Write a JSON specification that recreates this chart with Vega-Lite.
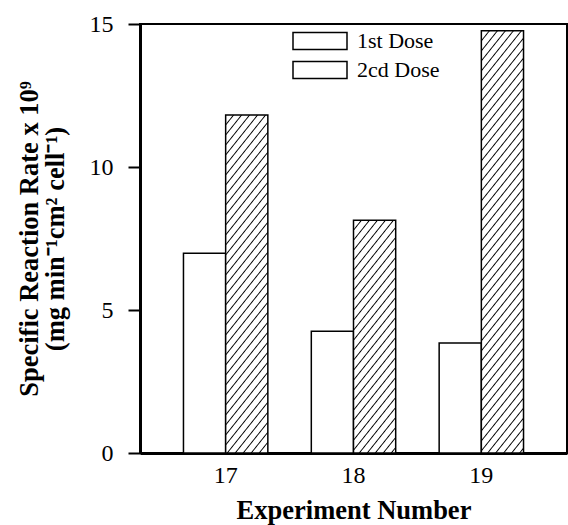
{
  "$schema": "https://vega.github.io/schema/vega-lite/v6.json",
  "width": 427,
  "height": 429,
  "autosize": {"type": "none"},
  "padding": {"left": 140, "top": 24, "right": 1, "bottom": 72},
  "background": "white",
  "config": {
    "font": "Liberation Serif",
    "view": {"stroke": "black", "strokeWidth": 2},
    "axis": {"domainColor": "black", "tickColor": "black", "labelColor": "black", "titleColor": "black", "grid": false}
  },
  "data": {
    "values": [
      {"exp": "17", "dose": "1st Dose", "rate": 6.98},
      {"exp": "17", "dose": "2cd Dose", "rate": 11.82},
      {"exp": "18", "dose": "1st Dose", "rate": 4.26},
      {"exp": "18", "dose": "2cd Dose", "rate": 8.14},
      {"exp": "19", "dose": "1st Dose", "rate": 3.85},
      {"exp": "19", "dose": "2cd Dose", "rate": 14.76}
    ]
  },
  "mark": {"type": "bar", "stroke": "black", "strokeWidth": 1.5},
  "encoding": {
    "x": {
      "field": "exp", "type": "ordinal",
      "scale": {"paddingInner": 0.34, "paddingOuter": 0.34},
      "axis": {"title": "Experiment Number", "labelAngle": 0, "ticks": false, "domainWidth": 3, "labelFontSize": 24, "labelPadding": 10, "labelDx": 3, "titleFontSize": 26.5, "titleFontWeight": "bold", "titlePadding": 10}
    },
    "xOffset": {"field": "dose", "type": "nominal", "scale": {"paddingInner": 0, "paddingOuter": 0}},
    "y": {
      "field": "rate", "type": "quantitative",
      "scale": {"domain": [0, 15], "nice": false},
      "axis": {"title": ["Specific Reaction Rate x 10⁹", "(mg min⁻¹cm² cell⁻¹)"], "values": [0, 5, 10, 15], "tickSize": 12, "tickWidth": 2, "domainWidth": 3, "labelFontSize": 24, "labelPadding": 15, "titleFontSize": 26.5, "titleFontWeight": "bold", "titleLineHeight": 26, "titlePadding": 20}
    },
    "fill": {
      "field": "dose", "type": "nominal",
      "scale": {"domain": ["1st Dose", "2cd Dose"], "range": ["white", "white"]},
      "legend": {
        "title": null, "orient": "none", "legendX": 169, "legendY": 6, "padding": 0,
        "symbolType": "M-2.7,-0.85H2.7V0.85H-2.7Z", "symbolSize": 400, "symbolStrokeColor": "black", "symbolStrokeWidth": 1.5,
        "labelFontSize": 22, "labelColor": "black", "labelOffset": 26, "rowPadding": 5,
        "encode": {"symbols": {"update": {
          "stroke": {"value": "black"},
          "fill": {"value": {"expr": "(datum.index === 1 || datum.value === '2cd Dose' || datum.label === '2cd Dose') ? {gradient: 'linear', x1: 0, y1: 0, x2: 6.9656, y2: 1.7543, stops: [{offset: 0, color: '#000'}, {offset: 0.003, color: '#fff'}, {offset: 0.017, color: '#fff'}, {offset: 0.02, color: '#000'}, {offset: 0.023, color: '#fff'}, {offset: 0.037, color: '#fff'}, {offset: 0.04, color: '#000'}, {offset: 0.043, color: '#fff'}, {offset: 0.057, color: '#fff'}, {offset: 0.06, color: '#000'}, {offset: 0.063, color: '#fff'}, {offset: 0.077, color: '#fff'}, {offset: 0.08, color: '#000'}, {offset: 0.083, color: '#fff'}, {offset: 0.097, color: '#fff'}, {offset: 0.1, color: '#000'}, {offset: 0.103, color: '#fff'}, {offset: 0.117, color: '#fff'}, {offset: 0.12, color: '#000'}, {offset: 0.123, color: '#fff'}, {offset: 0.137, color: '#fff'}, {offset: 0.14, color: '#000'}, {offset: 0.143, color: '#fff'}, {offset: 0.157, color: '#fff'}, {offset: 0.16, color: '#000'}, {offset: 0.163, color: '#fff'}, {offset: 0.177, color: '#fff'}, {offset: 0.18, color: '#000'}, {offset: 0.183, color: '#fff'}]} : 'white'"}}
        }}}
      },
      "condition": [
        {"test": "datum.exp === '17' && datum.dose === '2cd Dose'", "value": {"gradient": "linear", "x1": 0, "y1": 0, "x2": 0.22526, "y2": 1.44392, "stops": [
          {"offset":0,"color":"#000"},{"offset":0.003,"color":"#fff"},
          {"offset":0.017,"color":"#fff"},{"offset":0.02,"color":"#000"},{"offset":0.023,"color":"#fff"},
          {"offset":0.037,"color":"#fff"},{"offset":0.04,"color":"#000"},{"offset":0.043,"color":"#fff"},
          {"offset":0.057,"color":"#fff"},{"offset":0.06,"color":"#000"},{"offset":0.063,"color":"#fff"},
          {"offset":0.077,"color":"#fff"},{"offset":0.08,"color":"#000"},{"offset":0.083,"color":"#fff"},
          {"offset":0.097,"color":"#fff"},{"offset":0.1,"color":"#000"},{"offset":0.103,"color":"#fff"},
          {"offset":0.117,"color":"#fff"},{"offset":0.12,"color":"#000"},{"offset":0.123,"color":"#fff"},
          {"offset":0.137,"color":"#fff"},{"offset":0.14,"color":"#000"},{"offset":0.143,"color":"#fff"},
          {"offset":0.157,"color":"#fff"},{"offset":0.16,"color":"#000"},{"offset":0.163,"color":"#fff"},
          {"offset":0.177,"color":"#fff"},{"offset":0.18,"color":"#000"},{"offset":0.183,"color":"#fff"},
          {"offset":0.197,"color":"#fff"},{"offset":0.2,"color":"#000"},{"offset":0.203,"color":"#fff"},
          {"offset":0.217,"color":"#fff"},{"offset":0.22,"color":"#000"},{"offset":0.223,"color":"#fff"},
          {"offset":0.237,"color":"#fff"},{"offset":0.24,"color":"#000"},{"offset":0.243,"color":"#fff"},
          {"offset":0.257,"color":"#fff"},{"offset":0.26,"color":"#000"},{"offset":0.263,"color":"#fff"},
          {"offset":0.277,"color":"#fff"},{"offset":0.28,"color":"#000"},{"offset":0.283,"color":"#fff"},
          {"offset":0.297,"color":"#fff"},{"offset":0.3,"color":"#000"},{"offset":0.303,"color":"#fff"},
          {"offset":0.317,"color":"#fff"},{"offset":0.32,"color":"#000"},{"offset":0.323,"color":"#fff"},
          {"offset":0.337,"color":"#fff"},{"offset":0.34,"color":"#000"},{"offset":0.343,"color":"#fff"},
          {"offset":0.357,"color":"#fff"},{"offset":0.36,"color":"#000"},{"offset":0.363,"color":"#fff"},
          {"offset":0.377,"color":"#fff"},{"offset":0.38,"color":"#000"},{"offset":0.383,"color":"#fff"},
          {"offset":0.397,"color":"#fff"},{"offset":0.4,"color":"#000"},{"offset":0.403,"color":"#fff"},
          {"offset":0.417,"color":"#fff"},{"offset":0.42,"color":"#000"},{"offset":0.423,"color":"#fff"},
          {"offset":0.437,"color":"#fff"},{"offset":0.44,"color":"#000"},{"offset":0.443,"color":"#fff"},
          {"offset":0.457,"color":"#fff"},{"offset":0.46,"color":"#000"},{"offset":0.463,"color":"#fff"},
          {"offset":0.477,"color":"#fff"},{"offset":0.48,"color":"#000"},{"offset":0.483,"color":"#fff"},
          {"offset":0.497,"color":"#fff"},{"offset":0.5,"color":"#000"},{"offset":0.503,"color":"#fff"},
          {"offset":0.517,"color":"#fff"},{"offset":0.52,"color":"#000"},{"offset":0.523,"color":"#fff"},
          {"offset":0.537,"color":"#fff"},{"offset":0.54,"color":"#000"},{"offset":0.543,"color":"#fff"},
          {"offset":0.557,"color":"#fff"},{"offset":0.56,"color":"#000"},{"offset":0.563,"color":"#fff"},
          {"offset":0.577,"color":"#fff"},{"offset":0.58,"color":"#000"},{"offset":0.583,"color":"#fff"},
          {"offset":0.597,"color":"#fff"},{"offset":0.6,"color":"#000"},{"offset":0.603,"color":"#fff"},
          {"offset":0.617,"color":"#fff"},{"offset":0.62,"color":"#000"},{"offset":0.623,"color":"#fff"},
          {"offset":0.637,"color":"#fff"},{"offset":0.64,"color":"#000"},{"offset":0.643,"color":"#fff"},
          {"offset":0.657,"color":"#fff"},{"offset":0.66,"color":"#000"},{"offset":0.663,"color":"#fff"},
          {"offset":0.677,"color":"#fff"},{"offset":0.68,"color":"#000"},{"offset":0.683,"color":"#fff"},
          {"offset":0.697,"color":"#fff"},{"offset":0.7,"color":"#000"},{"offset":0.703,"color":"#fff"},
          {"offset":0.717,"color":"#fff"},{"offset":0.72,"color":"#000"},{"offset":0.723,"color":"#fff"},
          {"offset":0.737,"color":"#fff"},{"offset":0.74,"color":"#000"},{"offset":0.743,"color":"#fff"},
          {"offset":0.757,"color":"#fff"},{"offset":0.76,"color":"#000"},{"offset":0.763,"color":"#fff"},
          {"offset":0.777,"color":"#fff"},{"offset":0.78,"color":"#000"},{"offset":0.783,"color":"#fff"},
          {"offset":0.797,"color":"#fff"},{"offset":0.8,"color":"#000"},{"offset":0.803,"color":"#fff"}
        ]}},
        {"test": "datum.exp === '18' && datum.dose === '2cd Dose'", "value": {"gradient": "linear", "x1": 0, "y1": 0, "x2": 0.4628, "y2": 2.04293, "stops": [
          {"offset":0,"color":"#000"},{"offset":0.003,"color":"#fff"},
          {"offset":0.017,"color":"#fff"},{"offset":0.02,"color":"#000"},{"offset":0.023,"color":"#fff"},
          {"offset":0.037,"color":"#fff"},{"offset":0.04,"color":"#000"},{"offset":0.043,"color":"#fff"},
          {"offset":0.057,"color":"#fff"},{"offset":0.06,"color":"#000"},{"offset":0.063,"color":"#fff"},
          {"offset":0.077,"color":"#fff"},{"offset":0.08,"color":"#000"},{"offset":0.083,"color":"#fff"},
          {"offset":0.097,"color":"#fff"},{"offset":0.1,"color":"#000"},{"offset":0.103,"color":"#fff"},
          {"offset":0.117,"color":"#fff"},{"offset":0.12,"color":"#000"},{"offset":0.123,"color":"#fff"},
          {"offset":0.137,"color":"#fff"},{"offset":0.14,"color":"#000"},{"offset":0.143,"color":"#fff"},
          {"offset":0.157,"color":"#fff"},{"offset":0.16,"color":"#000"},{"offset":0.163,"color":"#fff"},
          {"offset":0.177,"color":"#fff"},{"offset":0.18,"color":"#000"},{"offset":0.183,"color":"#fff"},
          {"offset":0.197,"color":"#fff"},{"offset":0.2,"color":"#000"},{"offset":0.203,"color":"#fff"},
          {"offset":0.217,"color":"#fff"},{"offset":0.22,"color":"#000"},{"offset":0.223,"color":"#fff"},
          {"offset":0.237,"color":"#fff"},{"offset":0.24,"color":"#000"},{"offset":0.243,"color":"#fff"},
          {"offset":0.257,"color":"#fff"},{"offset":0.26,"color":"#000"},{"offset":0.263,"color":"#fff"},
          {"offset":0.277,"color":"#fff"},{"offset":0.28,"color":"#000"},{"offset":0.283,"color":"#fff"},
          {"offset":0.297,"color":"#fff"},{"offset":0.3,"color":"#000"},{"offset":0.303,"color":"#fff"},
          {"offset":0.317,"color":"#fff"},{"offset":0.32,"color":"#000"},{"offset":0.323,"color":"#fff"},
          {"offset":0.337,"color":"#fff"},{"offset":0.34,"color":"#000"},{"offset":0.343,"color":"#fff"},
          {"offset":0.357,"color":"#fff"},{"offset":0.36,"color":"#000"},{"offset":0.363,"color":"#fff"},
          {"offset":0.377,"color":"#fff"},{"offset":0.38,"color":"#000"},{"offset":0.383,"color":"#fff"},
          {"offset":0.397,"color":"#fff"},{"offset":0.4,"color":"#000"},{"offset":0.403,"color":"#fff"},
          {"offset":0.417,"color":"#fff"},{"offset":0.42,"color":"#000"},{"offset":0.423,"color":"#fff"},
          {"offset":0.437,"color":"#fff"},{"offset":0.44,"color":"#000"},{"offset":0.443,"color":"#fff"},
          {"offset":0.457,"color":"#fff"},{"offset":0.46,"color":"#000"},{"offset":0.463,"color":"#fff"},
          {"offset":0.477,"color":"#fff"},{"offset":0.48,"color":"#000"},{"offset":0.483,"color":"#fff"},
          {"offset":0.497,"color":"#fff"},{"offset":0.5,"color":"#000"},{"offset":0.503,"color":"#fff"},
          {"offset":0.517,"color":"#fff"},{"offset":0.52,"color":"#000"},{"offset":0.523,"color":"#fff"},
          {"offset":0.537,"color":"#fff"},{"offset":0.54,"color":"#000"},{"offset":0.543,"color":"#fff"},
          {"offset":0.557,"color":"#fff"},{"offset":0.56,"color":"#000"},{"offset":0.563,"color":"#fff"},
          {"offset":0.577,"color":"#fff"},{"offset":0.58,"color":"#000"},{"offset":0.583,"color":"#fff"}
        ]}},
        {"test": "datum.exp === '19' && datum.dose === '2cd Dose'", "value": {"gradient": "linear", "x1": 0, "y1": 0, "x2": 0.1457, "y2": 1.16624, "stops": [
          {"offset":0,"color":"#000"},{"offset":0.003,"color":"#fff"},
          {"offset":0.017,"color":"#fff"},{"offset":0.02,"color":"#000"},{"offset":0.023,"color":"#fff"},
          {"offset":0.037,"color":"#fff"},{"offset":0.04,"color":"#000"},{"offset":0.043,"color":"#fff"},
          {"offset":0.057,"color":"#fff"},{"offset":0.06,"color":"#000"},{"offset":0.063,"color":"#fff"},
          {"offset":0.077,"color":"#fff"},{"offset":0.08,"color":"#000"},{"offset":0.083,"color":"#fff"},
          {"offset":0.097,"color":"#fff"},{"offset":0.1,"color":"#000"},{"offset":0.103,"color":"#fff"},
          {"offset":0.117,"color":"#fff"},{"offset":0.12,"color":"#000"},{"offset":0.123,"color":"#fff"},
          {"offset":0.137,"color":"#fff"},{"offset":0.14,"color":"#000"},{"offset":0.143,"color":"#fff"},
          {"offset":0.157,"color":"#fff"},{"offset":0.16,"color":"#000"},{"offset":0.163,"color":"#fff"},
          {"offset":0.177,"color":"#fff"},{"offset":0.18,"color":"#000"},{"offset":0.183,"color":"#fff"},
          {"offset":0.197,"color":"#fff"},{"offset":0.2,"color":"#000"},{"offset":0.203,"color":"#fff"},
          {"offset":0.217,"color":"#fff"},{"offset":0.22,"color":"#000"},{"offset":0.223,"color":"#fff"},
          {"offset":0.237,"color":"#fff"},{"offset":0.24,"color":"#000"},{"offset":0.243,"color":"#fff"},
          {"offset":0.257,"color":"#fff"},{"offset":0.26,"color":"#000"},{"offset":0.263,"color":"#fff"},
          {"offset":0.277,"color":"#fff"},{"offset":0.28,"color":"#000"},{"offset":0.283,"color":"#fff"},
          {"offset":0.297,"color":"#fff"},{"offset":0.3,"color":"#000"},{"offset":0.303,"color":"#fff"},
          {"offset":0.317,"color":"#fff"},{"offset":0.32,"color":"#000"},{"offset":0.323,"color":"#fff"},
          {"offset":0.337,"color":"#fff"},{"offset":0.34,"color":"#000"},{"offset":0.343,"color":"#fff"},
          {"offset":0.357,"color":"#fff"},{"offset":0.36,"color":"#000"},{"offset":0.363,"color":"#fff"},
          {"offset":0.377,"color":"#fff"},{"offset":0.38,"color":"#000"},{"offset":0.383,"color":"#fff"},
          {"offset":0.397,"color":"#fff"},{"offset":0.4,"color":"#000"},{"offset":0.403,"color":"#fff"},
          {"offset":0.417,"color":"#fff"},{"offset":0.42,"color":"#000"},{"offset":0.423,"color":"#fff"},
          {"offset":0.437,"color":"#fff"},{"offset":0.44,"color":"#000"},{"offset":0.443,"color":"#fff"},
          {"offset":0.457,"color":"#fff"},{"offset":0.46,"color":"#000"},{"offset":0.463,"color":"#fff"},
          {"offset":0.477,"color":"#fff"},{"offset":0.48,"color":"#000"},{"offset":0.483,"color":"#fff"},
          {"offset":0.497,"color":"#fff"},{"offset":0.5,"color":"#000"},{"offset":0.503,"color":"#fff"},
          {"offset":0.517,"color":"#fff"},{"offset":0.52,"color":"#000"},{"offset":0.523,"color":"#fff"},
          {"offset":0.537,"color":"#fff"},{"offset":0.54,"color":"#000"},{"offset":0.543,"color":"#fff"},
          {"offset":0.557,"color":"#fff"},{"offset":0.56,"color":"#000"},{"offset":0.563,"color":"#fff"},
          {"offset":0.577,"color":"#fff"},{"offset":0.58,"color":"#000"},{"offset":0.583,"color":"#fff"},
          {"offset":0.597,"color":"#fff"},{"offset":0.6,"color":"#000"},{"offset":0.603,"color":"#fff"},
          {"offset":0.617,"color":"#fff"},{"offset":0.62,"color":"#000"},{"offset":0.623,"color":"#fff"},
          {"offset":0.637,"color":"#fff"},{"offset":0.64,"color":"#000"},{"offset":0.643,"color":"#fff"},
          {"offset":0.657,"color":"#fff"},{"offset":0.66,"color":"#000"},{"offset":0.663,"color":"#fff"},
          {"offset":0.677,"color":"#fff"},{"offset":0.68,"color":"#000"},{"offset":0.683,"color":"#fff"},
          {"offset":0.697,"color":"#fff"},{"offset":0.7,"color":"#000"},{"offset":0.703,"color":"#fff"},
          {"offset":0.717,"color":"#fff"},{"offset":0.72,"color":"#000"},{"offset":0.723,"color":"#fff"},
          {"offset":0.737,"color":"#fff"},{"offset":0.74,"color":"#000"},{"offset":0.743,"color":"#fff"},
          {"offset":0.757,"color":"#fff"},{"offset":0.76,"color":"#000"},{"offset":0.763,"color":"#fff"},
          {"offset":0.777,"color":"#fff"},{"offset":0.78,"color":"#000"},{"offset":0.783,"color":"#fff"},
          {"offset":0.797,"color":"#fff"},{"offset":0.8,"color":"#000"},{"offset":0.803,"color":"#fff"},
          {"offset":0.817,"color":"#fff"},{"offset":0.82,"color":"#000"},{"offset":0.823,"color":"#fff"},
          {"offset":0.837,"color":"#fff"},{"offset":0.84,"color":"#000"},{"offset":0.843,"color":"#fff"},
          {"offset":0.857,"color":"#fff"},{"offset":0.86,"color":"#000"},{"offset":0.863,"color":"#fff"},
          {"offset":0.877,"color":"#fff"},{"offset":0.88,"color":"#000"},{"offset":0.883,"color":"#fff"},
          {"offset":0.897,"color":"#fff"},{"offset":0.9,"color":"#000"},{"offset":0.903,"color":"#fff"},
          {"offset":0.917,"color":"#fff"},{"offset":0.92,"color":"#000"},{"offset":0.923,"color":"#fff"},
          {"offset":0.937,"color":"#fff"},{"offset":0.94,"color":"#000"},{"offset":0.943,"color":"#fff"},
          {"offset":0.957,"color":"#fff"},{"offset":0.96,"color":"#000"},{"offset":0.963,"color":"#fff"}
        ]}}
      ]
    }
  }
}
